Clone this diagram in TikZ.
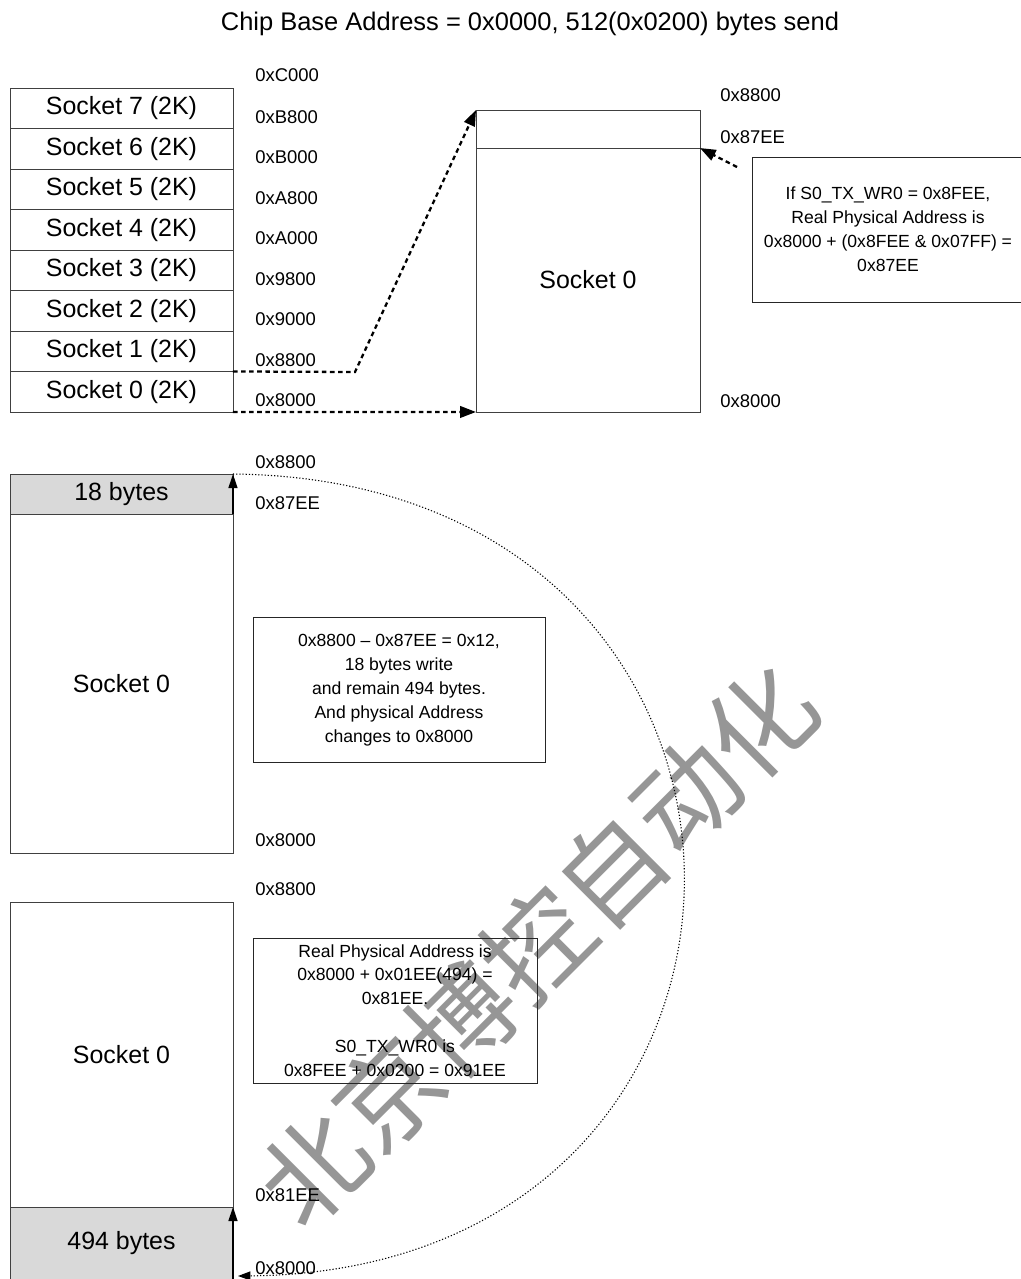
\documentclass[tikz,border=0pt]{standalone}
\usepackage{fontspec}
\setmainfont{Liberation Sans}
\newfontfamily\cjkfont{Noto Sans CJK SC}
\usepackage{tikz}
\usetikzlibrary{arrows.meta, positioning, calc}
\definecolor{cellgray}{RGB}{217,217,217}
\definecolor{markgray}{RGB}{150,150,150}

\begin{document}
\begin{tikzpicture}[
    x=0.02cm, y=-0.02cm,
    node distance=0pt,
    cell/.style={draw=black!75, minimum width=4.46cm, minimum height=#1, inner sep=0pt, outer sep=0pt, font=\fontsize{14.2}{17}\selectfont},
    cell/.default=0.81cm,
    addr/.style={anchor=west, inner sep=0pt, font=\fontsize{10.5}{12}\selectfont},
    note/.style={draw=black!85, align=center, inner sep=0pt, minimum width=#1, minimum height=2.9cm, font=\fontsize{10}{13.6}\selectfont},
    jump/.style={-{Triangle[length=9pt, width=6.5pt]}, line width=1.3pt, dash pattern=on 2.6pt off 2pt},
    uparrow/.style={-{Triangle[length=8pt, width=5pt]}, line width=1.2pt},
    wrap/.style={-{Triangle[length=7pt, width=5pt]}, line width=0.6pt, dash pattern=on 0.7pt off 1.1pt}
]
\useasboundingbox (0,0) rectangle (1021,1279);

% Watermark
\node[rotate=45, text=markgray, inner sep=0pt, font=\cjkfont\fontsize{60}{60}\selectfont] (mark) at (537,945) {北京博控自动化};

\node[font=\fontsize{14.5}{17}\selectfont] (title) at (530,24) {Chip Base Address = 0x0000, 512(0x0200) bytes send};

% Socket map
\node[cell] (s7) at (121.5,108.25) {Socket 7 (2K)};
\foreach \i in {6,...,0} {
  \pgfmathtruncatemacro\up{\i+1}
  \node[cell, below=of s\up] (s\i) {Socket \i\ (2K)};
}
\foreach \a [count=\k from 0] in {8000,8800,9000,9800,A000,A800,B000,B800}
  \node[addr] (a\a) at ($(s\k.south east)+(22,-11.5)$) {0x\a};
\node[addr] (aC000) at ($(s7.north east)+(22,-13)$) {0xC000};

% Socket 0 buffer
\node[cell=5.28cm, minimum width=4.48cm] (big) at (588,280) {Socket 0};
\node[cell=0.76cm, minimum width=4.48cm, above=of big] (bigtop) {};
\node[addr] (t8800) at (720,95) {0x8800};
\node[addr] (t87ee) at (720,137) {0x87EE};
\node[addr] (t8000) at (720,401) {0x8000};
\node[note=5.44cm] (note1) at (888,229.5) {If S0\_TX\_WR0 = 0x8FEE,\\Real Physical Address is\\0x8000 + (0x8FEE \& 0x07FF) =\\0x87EE};

\coordinate (bend) at (355,372);
\coordinate (n1tail) at (737,167);
\draw[jump] (s0.north east) -- (bend) -- (bigtop.north west);
\draw[jump] (s0.south east) -- (big.south west);
\draw[jump] (n1tail) -- (big.north east);

% First write: 18 bytes
\node[cell=0.8cm, fill=cellgray] (b18) at (121.5,494) {18 bytes};
\node[cell=6.78cm, below=of b18] (mid) {Socket 0};
\node[addr] (m8800) at (255,462) {0x8800};
\node[addr] (m87ee) at (255,503) {0x87EE};
\node[addr] (m8000) at (255,840) {0x8000};
\node[note=5.84cm] (note2) at (399,690) {0x8800 -- 0x87EE = 0x12,\\18 bytes write\\and remain 494 bytes.\\And physical Address\\changes to 0x8000};
\draw[uparrow] (mid.north east) -- (b18.north east);

% Wrap around: 494 bytes
\node[cell=6.1cm] (low) at (121.5,1054.5) {Socket 0};
\node[cell=1.44cm, fill=cellgray, below=of low] (b494) {494 bytes};
\node[addr] (l8800) at (255,889) {0x8800};
\node[addr] (l81ee) at (255,1195) {0x81EE};
\node[addr] (l8000) at (255,1268) {0x8000};
\node[note=5.68cm] (note3) at (395,1010.5) {Real Physical Address is\\0x8000 + 0x01EE(494) =\\0x81EE.\\[13.6pt]S0\_TX\_WR0 is\\0x8FEE + 0x0200 = 0x91EE};
\draw[uparrow] (b494.south east) -- (b494.north east);

\coordinate (wrapend) at (238,1276);
\draw[wrap] (b18.north east) .. controls (832,480) and (832,1270) .. (wrapend);
\end{tikzpicture}
\end{document}
